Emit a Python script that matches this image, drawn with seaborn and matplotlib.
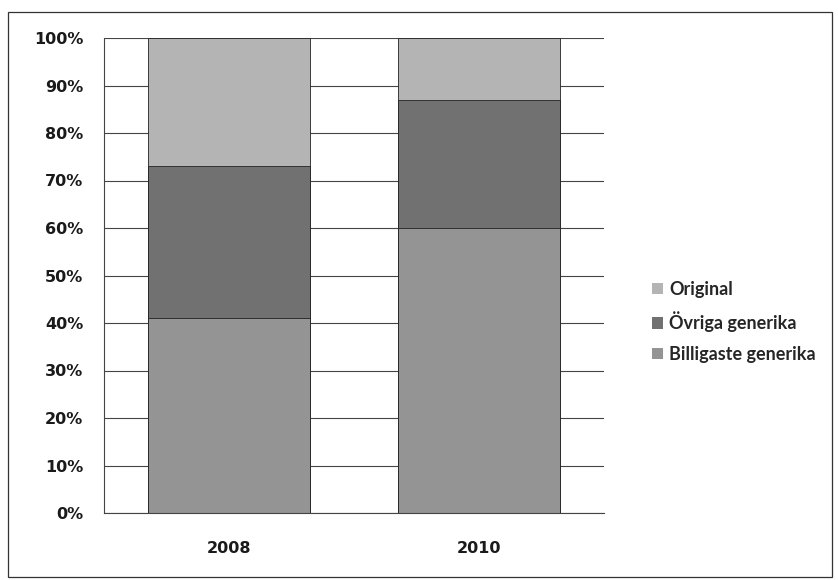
import pandas as pd
import matplotlib.pyplot as plt
import matplotlib.patches as mpatches
import seaborn as sns

years = ["2008", "2010"]
billigaste = [41, 60]
ovriga = [32, 27]
original = [27, 13]
series_names = ["Original", "Övriga generika", "Billigaste generika"]
colors = {"Original": "#b4b4b4", "Övriga generika": "#717171", "Billigaste generika": "#949494"}

df = pd.DataFrame({"year": years, "Billigaste generika": billigaste,
                   "Övriga generika": ovriga, "Original": original})
df["cum_bill"] = df["Billigaste generika"]
df["cum_ovr"] = df["cum_bill"] + df["Övriga generika"]
df["cum_orig"] = df["cum_ovr"] + df["Original"]

sns.set_style("white")
fig = plt.figure(figsize=(8.38, 5.80), dpi=100)
ax = fig.add_axes([104/838, 67/580, 500/838, 475/580])

# outer chart frame
fig.patches.append(mpatches.Rectangle((8/838, 3/580), 824/838, 565/580, transform=fig.transFigure,
                                      fill=False, edgecolor="#333333", linewidth=0.9))

ax.set_axisbelow(True)
ax.yaxis.grid(True, color="#444444", linewidth=0.8)
for col, name in [("cum_orig", "Original"), ("cum_ovr", "Övriga generika"), ("cum_bill", "Billigaste generika")]:
    sns.barplot(data=df, x="year", y=col, color=colors[name], width=0.65,
                edgecolor="#222222", linewidth=0.6, ax=ax, saturation=1)

ax.set_ylim(0, 100)
ax.set_xlim(-0.5, 1.5)
ax.set_yticks(range(0, 101, 10))
ax.set_yticklabels([f"{v}%" for v in range(0, 101, 10)], fontsize=11.5, fontweight="bold",
                   family="DejaVu Sans", color="#1a1a1a")
ax.set_xticklabels(years, fontsize=11.5, fontweight="bold", family="DejaVu Sans", color="#1a1a1a")
ax.tick_params(axis="y", length=0, pad=15)
ax.tick_params(axis="x", length=0, pad=20)
ax.set_xlabel("")
ax.set_ylabel("")
for s in ["top", "right"]:
    ax.spines[s].set_visible(False)
ax.spines["left"].set_color("#444444")
ax.spines["bottom"].set_color("#444444")
ax.spines["left"].set_linewidth(0.8)
ax.spines["bottom"].set_linewidth(0.8)

handles = [mpatches.Patch(facecolor=colors[n], edgecolor="none", label=n) for n in series_names]
fig.legend(handles=handles, loc="center left", bbox_to_anchor=(636/838, 0.445), frameon=False,
           prop={"family": "Lato", "size": 13, "weight": "bold"}, handlelength=0.6, handleheight=0.6,
           handletextpad=0.35, labelspacing=0.75)

fig.savefig("out.png", dpi=100, facecolor="white")
